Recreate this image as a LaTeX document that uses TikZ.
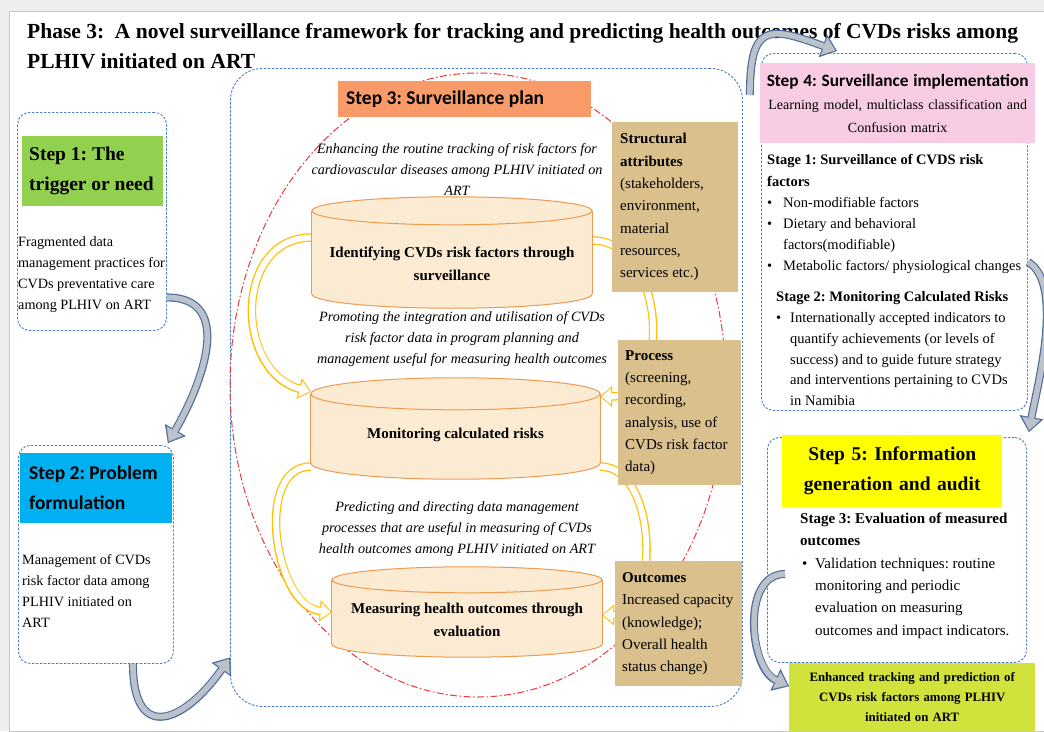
\documentclass[tikz,border=0pt]{standalone}
\usepackage{fontspec}
\setmainfont{Liberation Serif}
\setsansfont{Carlito}
\usetikzlibrary{arrows.meta, positioning, calc}
\frenchspacing

\definecolor{pagegray}{HTML}{EEEEEE}
\definecolor{frameblue}{HTML}{4A7CC8}
\definecolor{ringred}{HTML}{F03535}
\definecolor{stepgreen}{HTML}{92D050}
\definecolor{stepblue}{HTML}{00B0F0}
\definecolor{steporange}{HTML}{F89B68}
\definecolor{steppink}{HTML}{F8CCE4}
\definecolor{stepyellow}{HTML}{FFFF00}
\definecolor{resultlime}{HTML}{D2E23C}
\definecolor{papyrus}{HTML}{D9C08C}
\definecolor{drumfill}{HTML}{FCEBD3}
\definecolor{drumedge}{HTML}{EE9A50}
\definecolor{loopyellow}{HTML}{FFC000}
\definecolor{flowgray}{HTML}{BCC2CA}
\definecolor{flowedge}{HTML}{4F6E9E}

% bullet box of given width
\newcommand{\itemdot}[1]{\makebox[#1][l]{\textbullet}}
% cylinder drawn round a node: name, end radius, width
\newcommand{\drum}[3]{%
  \filldraw[drumline] ([yshift=#2pt]#1.south) ellipse [x radius=#3pt/2, y radius=#2pt];
  \fill[drumfill] ([yshift=-#2pt]#1.north west) rectangle ([yshift=#2pt]#1.south east);
  \draw[drumline] ([yshift=-#2pt]#1.north west) -- ([yshift=#2pt]#1.south west)
                  ([yshift=-#2pt]#1.north east) -- ([yshift=#2pt]#1.south east);
  \filldraw[drumline] ([yshift=-#2pt]#1.north) ellipse [x radius=#3pt/2, y radius=#2pt];
}

\begin{document}
\begin{tikzpicture}[x=1pt, y=-1pt,
    frame/.style={draw=frameblue, line width=0.9pt, dash pattern=on 2.4pt off 1.6pt, rounded corners=12pt},
    headbox/.style={inner xsep=8pt, inner ysep=0pt, align=flush left},
    body/.style={inner sep=0pt, align=flush left, font=\fontsize{14.2}{21}\selectfont},
    note/.style={inner sep=0pt, align=center, font=\itshape\fontsize{14.2}{21}\selectfont},
    drumbox/.style={inner sep=0pt},
    drumline/.style={draw=drumedge, fill=drumfill, line width=1pt},
    drumtext/.style={inner sep=0pt, align=center, font=\bfseries\fontsize{15}{23}\selectfont},
    papyrusbox/.style={fill=papyrus, inner xsep=8pt, inner ysep=0pt, align=flush left, font=\fontsize{15}{22.3}\selectfont},
    grayflow/.style={draw=flowedge, line width=8pt, -{Triangle[length=15pt,width=24pt,line width=0.4pt]},
        postaction={draw=flowgray, line width=5.6pt, -{Triangle[length=12pt,width=18.5pt,line width=0.4pt]}, shorten >=1.8pt}},
    goldflow/.style={draw=loopyellow, line width=8.5pt, -{Triangle[length=12pt,width=21pt,line width=0.4pt]},
        postaction={draw=white, line width=6pt, -{Triangle[length=9.5pt,width=16pt,line width=0.4pt]}, shorten >=1.4pt}}
]
    \useasboundingbox (0,0) rectangle (1044,731);
    \fill[pagegray] (0,0) rectangle (1044,731);
    \draw[gray!45, fill=white] (9,731) -- (9,11) -- (1044,11) -- (1044,731) -- cycle;

    % Title
    \node[anchor=north west, inner sep=0pt, align=flush left, font=\bfseries\fontsize{21.5}{30}\selectfont] (title) at (27,23)
        {Phase 3:\ \ A novel surveillance framework for tracking and predicting health outcomes of CVDs risks among\\PLHIV initiated on ART};

    % Dashed containers
    \node[frame, anchor=north west, minimum width=149pt, minimum height=218pt] (needframe) at (17,112) {};
    \node[frame, anchor=north west, minimum width=155pt, minimum height=218pt] (probframe) at (18,445) {};
    \node[frame, anchor=north west, minimum width=512pt, minimum height=638pt, rounded corners=32pt] (planframe) at (230,68) {};
    \node[frame, anchor=north west, minimum width=266pt, minimum height=357pt] (implframe) at (761,53) {};
    \node[frame, anchor=north west, minimum width=259pt, minimum height=225pt] (evalframe) at (767,437) {};

    % Plan ring
    \draw[ringred, line width=1pt, dash pattern=on 7pt off 2.5pt on 1.5pt off 2.5pt] (478,385) ellipse [x radius=248pt, y radius=312pt];

    % Cylinders (placeholders)
    \node[drumbox, minimum width=280pt, minimum height=111pt] (identify) at (452,252.5) {};
    \node[drumbox, minimum width=289pt, minimum height=101pt] (monitor) at (455.5,428.5) {};
    \node[drumbox, minimum width=270pt, minimum height=90pt] (measure) at (467,612) {};

    % Feedback loops
    \draw[goldflow] ([yshift=15pt]identify.west) to[out=180, in=165, looseness=1.3] ([yshift=-14pt]monitor.north west);
    \draw[goldflow] ([yshift=-38pt]monitor.west) to[out=180, in=175, looseness=1.0] (measure.west);
    \draw[goldflow] ([yshift=12pt]identify.east) to[out=0, in=0, looseness=1.2] ([yshift=32pt]monitor.east);
    \draw[goldflow] ([yshift=-38pt]monitor.east) to[out=0, in=0, looseness=1.0] ([yshift=-3pt]measure.east);

    \drum{identify}{14}{280}
    \node[drumtext] (identifylabel) at (452,263.5) {Identifying CVDs risk factors through\\surveillance};
    \drum{monitor}{16}{289}
    \node[drumtext] (monitorlabel) at (455.5,435) {Monitoring calculated risks};
    \drum{measure}{13}{270}
    \node[drumtext] (measurelabel) at (467,620) {Measuring health outcomes through\\evaluation};

    % Step 3 texts
    \node[headbox, anchor=north west, fill=steporange, minimum width=253pt, minimum height=36pt, text width=237pt,
        font=\sffamily\bfseries\fontsize{19.5}{24}\selectfont] (plan) at (338,81) {Step 3: Surveillance plan};
    \node[note] (enhance) at (457,169) {Enhancing the routine tracking of risk factors for\\cardiovascular diseases among PLHIV initiated on\\ART};
    \node[note] (promote) at (462,339.5) {Promoting the integration and utilisation of CVDs\\risk factor data in program planning and\\management useful for measuring health outcomes};
    \node[note] (predict) at (457,529) {Predicting and directing data management\\processes that are useful in measuring of CVDs\\health outcomes among PLHIV initiated on ART};

    % Attribute boxes
    \node[papyrusbox, anchor=north west, minimum width=126pt, minimum height=170pt, text width=110pt] (structure) at (612,122)
        {\textbf{Structural}\\\textbf{attributes}\\(stakeholders,\\environment,\\material\\resources,\\services etc.)};
    \node[papyrusbox, anchor=north west, inner xsep=7pt, minimum width=123pt, minimum height=145pt, text width=109pt] (process) at (618,340)
        {\textbf{Process}\\(screening,\\recording,\\analysis, use of\\CVDs risk factor\\data)};
    \node[papyrusbox, anchor=north west, inner xsep=7pt, minimum width=127pt, minimum height=125pt, text width=113pt] (outcome) at (615,561)
        {\textbf{Outcomes}\\Increased capacity\\(knowledge);\\Overall health\\status change)};

    % Step 1 and Step 2
    \node[headbox, anchor=north west, fill=stepgreen, inner xsep=7pt, minimum width=141pt, minimum height=70pt, text width=127pt,
        font=\bfseries\fontsize{19.5}{30}\selectfont] (need) at (22,136) {Step 1: The\\trigger or need};
    \node[body, anchor=north west] (needtext) at (18,236.5) {Fragmented data\\management practices for\\CVDs preventative care\\among PLHIV on ART};
    \node[headbox, anchor=north west, fill=stepblue, inner xsep=9pt, minimum width=152pt, minimum height=70pt, text width=134pt,
        font=\sffamily\bfseries\fontsize{19.5}{30}\selectfont] (problem) at (20,453) {Step 2: Problem\\formulation};
    \node[body, anchor=north west] (probtext) at (22,554.5) {Management of CVDs\\risk factor data among\\PLHIV initiated on\\ART};

    % Step 4
    \node[headbox, anchor=north west, fill=steppink, align=center, inner xsep=1pt, minimum width=275pt, minimum height=80pt, text width=273pt,
        font=\fontsize{14}{23}\selectfont] (impl) at (760,63)
        {{\sffamily\bfseries\fontsize{17.3}{23}\selectfont Step 4: Surveillance implementation}\\Learning model, multiclass classification and\\Confusion matrix};
    \node[body, anchor=north west, font=\fontsize{14.5}{21.1}\selectfont] (stageone) at (767,154.5)
        {\textbf{Stage 1: Surveillance of CVDS risk}\\\textbf{factors}\\\itemdot{16pt}Non-modifiable factors\\\itemdot{16pt}Dietary and behavioral\\\hspace*{16pt}factors(modifiable)\\\itemdot{16pt}Metabolic factors/ physiological changes};
    \node[body, anchor=north west, font=\fontsize{14.5}{20.8}\selectfont] (stagetwo) at (776,291.5)
        {\textbf{Stage 2: Monitoring Calculated Risks}\\\itemdot{14pt}Internationally accepted indicators to\\\hspace*{14pt}quantify achievements (or levels of\\\hspace*{14pt}success) and to guide future strategy\\\hspace*{14pt}and interventions pertaining to CVDs\\\hspace*{14pt}in Namibia};

    % Step 5 and result
    \node[headbox, anchor=north west, fill=stepyellow, align=center, inner xsep=4pt, minimum width=220pt, minimum height=72pt, text width=212pt,
        font=\bfseries\fontsize{19.5}{30}\selectfont] (audit) at (782,435) {Step 5: Information\\generation and audit};
    \node[body, anchor=north west, font=\fontsize{15}{22.4}\selectfont] (stagethree) at (800,512.5)
        {\textbf{Stage 3: Evaluation of measured}\\\textbf{outcomes}\\\hspace*{2pt}\itemdot{13pt}Validation techniques: routine\\\hspace*{15pt}monitoring and periodic\\\hspace*{15pt}evaluation on measuring\\\hspace*{15pt}outcomes and impact indicators.};
    \node[headbox, anchor=north west, fill=resultlime, align=center, inner xsep=3pt, minimum width=246pt, minimum height=68pt, text width=240pt,
        font=\bfseries\fontsize{12.8}{20}\selectfont] (result) at (789,663) {Enhanced tracking and prediction of\\CVDs risk factors among PLHIV\\initiated on ART};

    % Flow between steps
    \draw[grayflow] ([yshift=-76pt]needframe.east) to[out=0, in=60, looseness=1.2] ([xshift=-6pt,yshift=2pt]probframe.north east);
    \draw[grayflow] ([xshift=37pt]probframe.south) to[out=-90, in=-125, looseness=2.1] ([yshift=-270pt]planframe.west);
    \draw[grayflow] ([xshift=7pt,yshift=-27pt]planframe.north east) to[out=90, in=160, looseness=1.9] ([xshift=76pt,yshift=2pt]implframe.north west);
    \draw[grayflow] ([yshift=-30pt]implframe.east) to[out=-30, in=80, looseness=0.65] ([xshift=2pt,yshift=5pt]evalframe.north east);
    \draw[grayflow] ([xshift=18pt,yshift=-24pt]evalframe.west) to[out=180, in=155, looseness=1.0] ([yshift=11pt]result.west);
\end{tikzpicture}
\end{document}
